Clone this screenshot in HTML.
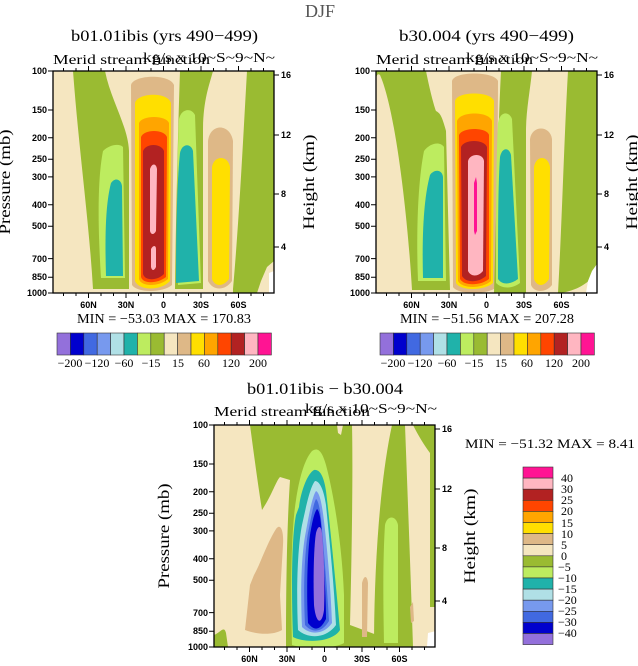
<!DOCTYPE html>
<html><head><meta charset="utf-8"><style>
html,body{margin:0;padding:0;background:#fff;}
svg{display:block;font-family:"Liberation Serif",serif;}
.t{font-family:"Liberation Sans",sans-serif;font-size:9px;font-weight:bold;fill:#000;}
.s{font-family:"Liberation Serif",serif;font-size:14px;fill:#000;}
</style></head><body>
<svg width="638" height="666" viewBox="0 0 638 666" xmlns="http://www.w3.org/2000/svg">
<defs>
<clipPath id="c"><rect x="0" y="0" width="221" height="222"/></clipPath>
</defs>
<text x="320" y="17" text-anchor="middle" font-size="18" fill="#555">DJF</text>

<!-- ===== Panel 1 ===== -->
<g transform="translate(53,71)">
<g clip-path="url(#c)">
<rect width="221" height="222" fill="#f5e6c0"/>
<path d="M20,0 L52,0 C58,30 75,55 76,80 L76,218 L40,218 C36,150 26,80 20,0Z" fill="#9abb32"/>
<path d="M50,80 C56,74 66,72 70,76 L72,207 L48,207 C45,160 44,110 50,80Z" fill="#bdec5f"/>
<path d="M58,112 C62,106 68,108 69,115 L70,205 L53,205 C52,170 52,135 58,112Z" fill="#20b2aa"/>
<path d="M78,14 C80,4 116,2 121,14 L119,214 C110,222 84,222 79,214Z" fill="#deb887"/>
<path d="M82,32 C84,22 114,20 118,32 L117,210 C108,220 86,220 82,210Z" fill="#ffdf00"/>
<path d="M86,52 C89,44 113,44 116,52 L115,208 C106,216 88,216 86,208Z" fill="#ffa500"/>
<path d="M88,66 C91,58 111,58 114,66 L113,206 C104,213 90,213 88,206Z" fill="#ff4500"/>
<path d="M90,80 C93,72 108,72 111,80 L111,203 C104,210 92,210 90,203Z" fill="#b22222"/>
<path d="M97,98 C99,92 103,92 104,98 L103,160 C101,164 98,164 97,160Z" fill="#ffb6c1"/>
<path d="M98,178 C100,174 103,174 103,178 L103,196 C101,200 99,200 98,196Z" fill="#ffb6c1"/>
<path d="M127,0 L160,0 C156,15 150,30 150,60 L150,218 L122,218 C123,140 125,60 127,0Z" fill="#9abb32"/>
<path d="M126,48 C128,38 138,36 142,44 L148,212 L125,214 C124,150 124,90 126,48Z" fill="#bdec5f"/>
<path d="M127,82 C129,72 138,72 140,80 L146,210 L123,212 C123,160 124,110 127,82Z" fill="#20b2aa"/>
<path d="M155,70 C157,52 177,52 180,70 L179,210 C172,220 160,220 155,210Z" fill="#deb887"/>
<path d="M159,96 C161,84 175,84 177,96 L176,208 C170,216 162,216 159,208Z" fill="#ffdf00"/>
<path d="M194,0 L221,0 L221,218 C214,222 200,222 180,222 L180,218 C186,150 190,70 194,0Z" fill="#9abb32"/>
<path d="M221,190 L214,196 L208,210 L204,222 L221,222Z" fill="#f5e6c0"/>
<path d="M221,200 L216,202 L216,222 L221,222Z" fill="#fff"/>
</g>
</g>

<!-- ===== Panel 2 ===== -->
<g transform="translate(376,71)">
<g clip-path="url(#c)">
<rect width="221" height="222" fill="#f5e6c0"/>
<path d="M0,0 L50,0 C54,20 58,35 60,40 C64,42 66,45 70,60 L74,219 L36,219 C32,150 20,40 4,4 C2,2 0,4 0,10Z" fill="#9abb32"/>
<path d="M48,80 C54,72 64,70 68,76 L70,210 L42,210 C40,160 42,110 48,80Z" fill="#bdec5f"/>
<path d="M54,104 C58,98 66,98 67,106 L67,207 L47,207 C46,170 47,130 54,104Z" fill="#20b2aa"/>
<path d="M76,10 C78,0 118,0 122,10 L121,216 C112,224 82,224 77,216Z" fill="#deb887"/>
<path d="M79,30 C81,20 115,20 118,30 L117,212 C108,220 84,220 80,212Z" fill="#ffdf00"/>
<path d="M81,50 C84,40 113,40 116,50 L115,210 C106,218 86,218 82,210Z" fill="#ffa500"/>
<path d="M83,64 C86,56 111,56 113,64 L113,208 C104,215 88,215 84,208Z" fill="#ff4500"/>
<path d="M85,76 C88,68 108,68 111,76 L110,205 C102,212 90,212 86,205Z" fill="#b22222"/>
<path d="M92,90 C94,82 107,82 108,90 L107,200 C102,206 95,206 92,200Z" fill="#ffb6c1"/>
<path d="M98,112 L100,106 L101,112 L101,160 L99,164 L98,160Z" fill="#ff1493"/>
<path d="M125,0 L156,0 C154,20 150,40 150,60 L150,222 L118,222 C120,150 122,60 125,0Z" fill="#9abb32"/>
<path d="M122,52 C124,40 133,40 136,48 L144,212 C136,218 126,218 120,212 C120,150 120,90 122,52Z" fill="#bdec5f"/>
<path d="M124,86 C126,76 133,76 135,84 L142,208 C134,214 126,214 122,208 C122,160 122,115 124,86Z" fill="#20b2aa"/>
<path d="M154,68 C156,54 174,54 176,68 L176,214 C170,222 158,222 155,214Z" fill="#deb887"/>
<path d="M158,96 C160,84 172,84 174,96 L173,208 C168,216 161,216 158,208Z" fill="#ffdf00"/>
<path d="M192,0 L221,0 L221,200 C214,212 200,220 184,222 L182,222 C186,150 188,70 192,0Z" fill="#9abb32"/>
<path d="M221,193 L216,200 L212,210 L210,222 L221,222Z" fill="#fff"/>
</g>
</g>

<!-- ===== Panel 3 (diff) ===== -->
<g transform="translate(214,425)">
<g clip-path="url(#c)">
<rect width="221" height="222" fill="#f5e6c0"/>
<path d="M36,0 L138,0 C139,40 138,120 136,200 L163,210 L163,222 L72,222 C72,160 73,100 76,55 L66,52 C62,56 58,70 48,85 C44,60 40,30 36,0Z" fill="#9abb32"/>
<path d="M123,0 L129,0 L127,10 L124,8Z" fill="#f5e6c0"/>
<path d="M178,0 L191,0 C194,80 197,160 199,222 L160,222 C160,150 165,60 178,0Z" fill="#9abb32"/>
<path d="M199,0 L222,0 L222,182 L216,182 L216,28 C210,20 204,10 199,0Z" fill="#9abb32"/>
<path d="M171,100 C173,90 182,90 184,100 L184,218 L170,218 C169,170 169,130 171,100Z" fill="#bdec5f"/>
<path d="M196,182 L199,177 L200,196 L197,198Z" fill="#deb887"/>
<path d="M148,158 C150,150 153,150 154,158 L153,212 L148,212Z" fill="#deb887"/>
<path d="M214,208 L222,206 L222,222 L213,222Z" fill="#fff"/>
<path d="M0,222 L0,210 C6,208 10,200 12,208 L14,222Z" fill="#9abb32"/>
<path d="M62,104 C66,98 70,104 69,120 L66,170 L68,205 C60,210 44,210 31,205 L36,160 L40,150 C46,140 52,120 62,104Z" fill="#deb887"/>
<path d="M78,220 C76,150 78,100 82,75 C85,55 90,35 98,26 C104,22 108,26 112,40 C120,70 128,120 130,170 L130,218 C120,224 90,224 78,220Z" fill="#bdec5f"/>
<path d="M79,212 C77,160 78,110 82,90 L85,82 C87,65 94,48 100,45 C106,44 110,52 112,66 C116,100 122,160 126,205 C118,218 90,218 79,212Z" fill="#20b2aa"/>
<path d="M84,205 C82,160 84,120 88,100 C92,82 96,62 101,56 C106,56 110,66 112,80 C116,120 120,160 122,200 C112,214 94,214 84,205Z" fill="#b0e0e6"/>
<path d="M88,202 C86,160 88,125 92,106 C95,90 98,72 102,66 C106,68 108,80 110,96 C114,130 117,170 118,198 C110,210 96,210 88,202Z" fill="#7799ee"/>
<path d="M91,200 C89,160 91,125 94,108 C97,94 99,80 102,74 C105,76 107,90 108,104 C111,140 114,175 115,196 C108,208 98,208 91,200Z" fill="#4169e1"/>
<path d="M94,198 C92,160 94,125 96,110 C98,98 100,88 103,84 C106,86 107,98 108,110 C110,140 112,175 112,194 C106,206 100,206 94,198Z" fill="#0000cd"/>
<path d="M100,180 C99,150 100,120 102,108 C104,100 107,100 108,108 C110,130 111,160 110,185 C108,200 102,200 100,180Z" fill="#9370db"/>
</g>
</g>

<!-- ===== Axes ===== -->
<g transform="translate(53,71)" stroke="#000" fill="none">
<rect width="221" height="222" stroke-width="1.3"/>
<path d="M35.5,222v5M73,222v5M110.5,222v5M148,222v5M185.5,222v5M35.5,0v-5M73,0v-5M110.5,0v-5M148,0v-5M185.5,0v-5M10.5,222v3M23,222v3M48,222v3M60.5,222v3M85.5,222v3M98,222v3M123,222v3M135.5,222v3M160.5,222v3M173,222v3M198,222v3M210.5,222v3M10.5,0v-3M23,0v-3M48,0v-3M60.5,0v-3M85.5,0v-3M98,0v-3M123,0v-3M135.5,0v-3M160.5,0v-3M173,0v-3M198,0v-3M210.5,0v-3M0,0h-5M0,39h-5M0,66.8h-5M0,88.3h-5M0,105.9h-5M0,133.7h-5M0,155.2h-5M0,187.6h-5M0,206.3h-5M0,222h-5M221,4h5M221,64h5M221,123h5M221,176h5"/>
</g>
<g transform="translate(376,71)" stroke="#000" fill="none">
<rect width="221" height="222" stroke-width="1.3"/>
<path d="M35.5,222v5M73,222v5M110.5,222v5M148,222v5M185.5,222v5M35.5,0v-5M73,0v-5M110.5,0v-5M148,0v-5M185.5,0v-5M10.5,222v3M23,222v3M48,222v3M60.5,222v3M85.5,222v3M98,222v3M123,222v3M135.5,222v3M160.5,222v3M173,222v3M198,222v3M210.5,222v3M10.5,0v-3M23,0v-3M48,0v-3M60.5,0v-3M85.5,0v-3M98,0v-3M123,0v-3M135.5,0v-3M160.5,0v-3M173,0v-3M198,0v-3M210.5,0v-3M0,0h-5M0,39h-5M0,66.8h-5M0,88.3h-5M0,105.9h-5M0,133.7h-5M0,155.2h-5M0,187.6h-5M0,206.3h-5M0,222h-5M221,4h5M221,64h5M221,123h5M221,176h5"/>
</g>
<g transform="translate(214,425)" stroke="#000" fill="none">
<rect width="221" height="222" stroke-width="1.3"/>
<path d="M35.5,222v5M73,222v5M110.5,222v5M148,222v5M185.5,222v5M35.5,0v-5M73,0v-5M110.5,0v-5M148,0v-5M185.5,0v-5M10.5,222v3M23,222v3M48,222v3M60.5,222v3M85.5,222v3M98,222v3M123,222v3M135.5,222v3M160.5,222v3M173,222v3M198,222v3M210.5,222v3M10.5,0v-3M23,0v-3M48,0v-3M60.5,0v-3M85.5,0v-3M98,0v-3M123,0v-3M135.5,0v-3M160.5,0v-3M173,0v-3M198,0v-3M210.5,0v-3M0,0h-5M0,39h-5M0,66.8h-5M0,88.3h-5M0,105.9h-5M0,133.7h-5M0,155.2h-5M0,187.6h-5M0,206.3h-5M0,222h-5M221,4h5M221,64h5M221,123h5M221,176h5"/>
</g>

<!-- axis labels panel 1 -->
<g transform="translate(53,71)">
<g class="t" text-anchor="end">
<text x="-6" y="3">100</text><text x="-6" y="42">150</text><text x="-6" y="70">200</text><text x="-6" y="91">250</text><text x="-6" y="109">300</text><text x="-6" y="137">400</text><text x="-6" y="158">500</text><text x="-6" y="191">700</text><text x="-6" y="209">850</text><text x="-6" y="225">1000</text>
</g>
<g class="t">
<text x="228" y="7">16</text><text x="228" y="67">12</text><text x="228" y="126">8</text><text x="228" y="179">4</text>
</g>
<g class="t" text-anchor="middle">
<text x="35.5" y="237">60N</text><text x="73" y="237">30N</text><text x="110.5" y="237">0</text><text x="148" y="237">30S</text><text x="185.5" y="237">60S</text>
</g>
<text x="18" y="-30" font-size="16" textLength="187" lengthAdjust="spacingAndGlyphs">b01.01ibis (yrs 490−499)</text>
<text x="0" y="-7" class="s" textLength="157" lengthAdjust="spacingAndGlyphs">Merid stream function</text>
<text x="90" y="-9" class="s" textLength="132" lengthAdjust="spacingAndGlyphs">kg/s x 10~S~9~N~</text>
<text x="24" y="252" font-size="14" textLength="174" lengthAdjust="spacingAndGlyphs">MIN = −53.03   MAX = 170.83</text>
<text transform="translate(-43,111) rotate(-90)" text-anchor="middle" font-size="16" textLength="105" lengthAdjust="spacingAndGlyphs">Pressure (mb)</text>
<text transform="translate(261,111) rotate(-90)" text-anchor="middle" font-size="16" textLength="95" lengthAdjust="spacingAndGlyphs">Height (km)</text>
</g>

<!-- axis labels panel 2 -->
<g transform="translate(376,71)">
<g class="t" text-anchor="end">
<text x="-6" y="3">100</text><text x="-6" y="42">150</text><text x="-6" y="70">200</text><text x="-6" y="91">250</text><text x="-6" y="109">300</text><text x="-6" y="137">400</text><text x="-6" y="158">500</text><text x="-6" y="191">700</text><text x="-6" y="209">850</text><text x="-6" y="225">1000</text>
</g>
<g class="t">
<text x="228" y="7">16</text><text x="228" y="67">12</text><text x="228" y="126">8</text><text x="228" y="179">4</text>
</g>
<g class="t" text-anchor="middle">
<text x="35.5" y="237">60N</text><text x="73" y="237">30N</text><text x="110.5" y="237">0</text><text x="148" y="237">30S</text><text x="185.5" y="237">60S</text>
</g>
<text x="23" y="-30" font-size="16" textLength="175" lengthAdjust="spacingAndGlyphs">b30.004 (yrs 490−499)</text>
<text x="0" y="-7" class="s" textLength="157" lengthAdjust="spacingAndGlyphs">Merid stream function</text>
<text x="90" y="-9" class="s" textLength="132" lengthAdjust="spacingAndGlyphs">kg/s x 10~S~9~N~</text>
<text x="24" y="252" font-size="14" textLength="174" lengthAdjust="spacingAndGlyphs">MIN = −51.56   MAX = 207.28</text>
<text transform="translate(261,111) rotate(-90)" text-anchor="middle" font-size="16" textLength="95" lengthAdjust="spacingAndGlyphs">Height (km)</text>
</g>

<!-- axis labels panel 3 -->
<g transform="translate(214,425)">
<g class="t" text-anchor="end">
<text x="-6" y="3">100</text><text x="-6" y="42">150</text><text x="-6" y="70">200</text><text x="-6" y="91">250</text><text x="-6" y="109">300</text><text x="-6" y="137">400</text><text x="-6" y="158">500</text><text x="-6" y="191">700</text><text x="-6" y="209">850</text><text x="-6" y="225">1000</text>
</g>
<g class="t">
<text x="228" y="7">16</text><text x="228" y="67">12</text><text x="228" y="126">8</text><text x="228" y="179">4</text>
</g>
<g class="t" text-anchor="middle">
<text x="35.5" y="237">60N</text><text x="73" y="237">30N</text><text x="110.5" y="237">0</text><text x="148" y="237">30S</text><text x="185.5" y="237">60S</text>
</g>
<text x="33" y="-31" font-size="16" textLength="156" lengthAdjust="spacingAndGlyphs">b01.01ibis − b30.004</text>
<text x="0" y="-9" class="s" textLength="156" lengthAdjust="spacingAndGlyphs">Merid stream function</text>
<text x="91" y="-12" class="s" textLength="132" lengthAdjust="spacingAndGlyphs">kg/s x 10~S~9~N~</text>
<text transform="translate(-45,111) rotate(-90)" text-anchor="middle" font-size="16" textLength="105" lengthAdjust="spacingAndGlyphs">Pressure (mb)</text>
<text transform="translate(261,111) rotate(-90)" text-anchor="middle" font-size="16" textLength="95" lengthAdjust="spacingAndGlyphs">Height (km)</text>
</g>
<text x="465" y="448" font-size="13" textLength="170" lengthAdjust="spacingAndGlyphs">MIN = −51.32   MAX =    8.41</text>

<!-- horizontal colorbars -->
<g transform="translate(57,333)" stroke="#333" stroke-width="0.6">
<rect x="0" width="13.4" height="22" fill="#9370db"/><rect x="13.4" width="13.4" height="22" fill="#0000cd"/><rect x="26.8" width="13.4" height="22" fill="#4169e1"/><rect x="40.2" width="13.4" height="22" fill="#7799ee"/><rect x="53.6" width="13.4" height="22" fill="#b0e0e6"/><rect x="67" width="13.4" height="22" fill="#20b2aa"/><rect x="80.4" width="13.4" height="22" fill="#bdec5f"/><rect x="93.8" width="13.4" height="22" fill="#9abb32"/><rect x="107.2" width="13.4" height="22" fill="#f5e6c0"/><rect x="120.6" width="13.4" height="22" fill="#deb887"/><rect x="134" width="13.4" height="22" fill="#ffdf00"/><rect x="147.4" width="13.4" height="22" fill="#ffa500"/><rect x="160.8" width="13.4" height="22" fill="#ff4500"/><rect x="174.2" width="13.4" height="22" fill="#b22222"/><rect x="187.6" width="13.4" height="22" fill="#ffb6c1"/><rect x="201" width="13.4" height="22" fill="#ff1493"/>
</g>
<g transform="translate(57,367)" font-size="12" text-anchor="middle">
<text x="13">−200</text><text x="40">−120</text><text x="67">−60</text><text x="94">−15</text><text x="121">15</text><text x="147">60</text><text x="174">120</text><text x="201">200</text>
</g>
<g transform="translate(380,333)" stroke="#333" stroke-width="0.6">
<rect x="0" width="13.4" height="22" fill="#9370db"/><rect x="13.4" width="13.4" height="22" fill="#0000cd"/><rect x="26.8" width="13.4" height="22" fill="#4169e1"/><rect x="40.2" width="13.4" height="22" fill="#7799ee"/><rect x="53.6" width="13.4" height="22" fill="#b0e0e6"/><rect x="67" width="13.4" height="22" fill="#20b2aa"/><rect x="80.4" width="13.4" height="22" fill="#bdec5f"/><rect x="93.8" width="13.4" height="22" fill="#9abb32"/><rect x="107.2" width="13.4" height="22" fill="#f5e6c0"/><rect x="120.6" width="13.4" height="22" fill="#deb887"/><rect x="134" width="13.4" height="22" fill="#ffdf00"/><rect x="147.4" width="13.4" height="22" fill="#ffa500"/><rect x="160.8" width="13.4" height="22" fill="#ff4500"/><rect x="174.2" width="13.4" height="22" fill="#b22222"/><rect x="187.6" width="13.4" height="22" fill="#ffb6c1"/><rect x="201" width="13.4" height="22" fill="#ff1493"/>
</g>
<g transform="translate(380,367)" font-size="12" text-anchor="middle">
<text x="13">−200</text><text x="40">−120</text><text x="67">−60</text><text x="94">−15</text><text x="121">15</text><text x="147">60</text><text x="174">120</text><text x="201">200</text>
</g>

<!-- vertical colorbar -->
<g transform="translate(523,467)" stroke="#333" stroke-width="0.6">
<rect y="0" width="30" height="11.1" fill="#ff1493"/><rect y="11.1" width="30" height="11.1" fill="#ffb6c1"/><rect y="22.2" width="30" height="11.1" fill="#b22222"/><rect y="33.3" width="30" height="11.1" fill="#ff4500"/><rect y="44.4" width="30" height="11.1" fill="#ffa500"/><rect y="55.5" width="30" height="11.1" fill="#ffdf00"/><rect y="66.6" width="30" height="11.1" fill="#deb887"/><rect y="77.7" width="30" height="11.1" fill="#f5e6c0"/><rect y="88.8" width="30" height="11.1" fill="#9abb32"/><rect y="99.9" width="30" height="11.1" fill="#bdec5f"/><rect y="111" width="30" height="11.1" fill="#20b2aa"/><rect y="122.1" width="30" height="11.1" fill="#b0e0e6"/><rect y="133.2" width="30" height="11.1" fill="#7799ee"/><rect y="144.3" width="30" height="11.1" fill="#4169e1"/><rect y="155.4" width="30" height="11.1" fill="#0000cd"/><rect y="166.5" width="30" height="11.1" fill="#9370db"/>
</g>
<g transform="translate(558,467)" font-size="12">
<text x="3" y="15">40</text><text x="3" y="26">30</text><text x="3" y="37">25</text><text x="3" y="48">20</text><text x="3" y="60">15</text><text x="3" y="71">10</text><text x="3" y="82">5</text><text x="3" y="93">0</text><text y="104">−5</text><text y="115">−10</text><text y="126">−15</text><text y="137">−20</text><text y="148">−25</text><text y="159">−30</text><text y="170">−40</text>
</g>
</svg>
</body></html>
